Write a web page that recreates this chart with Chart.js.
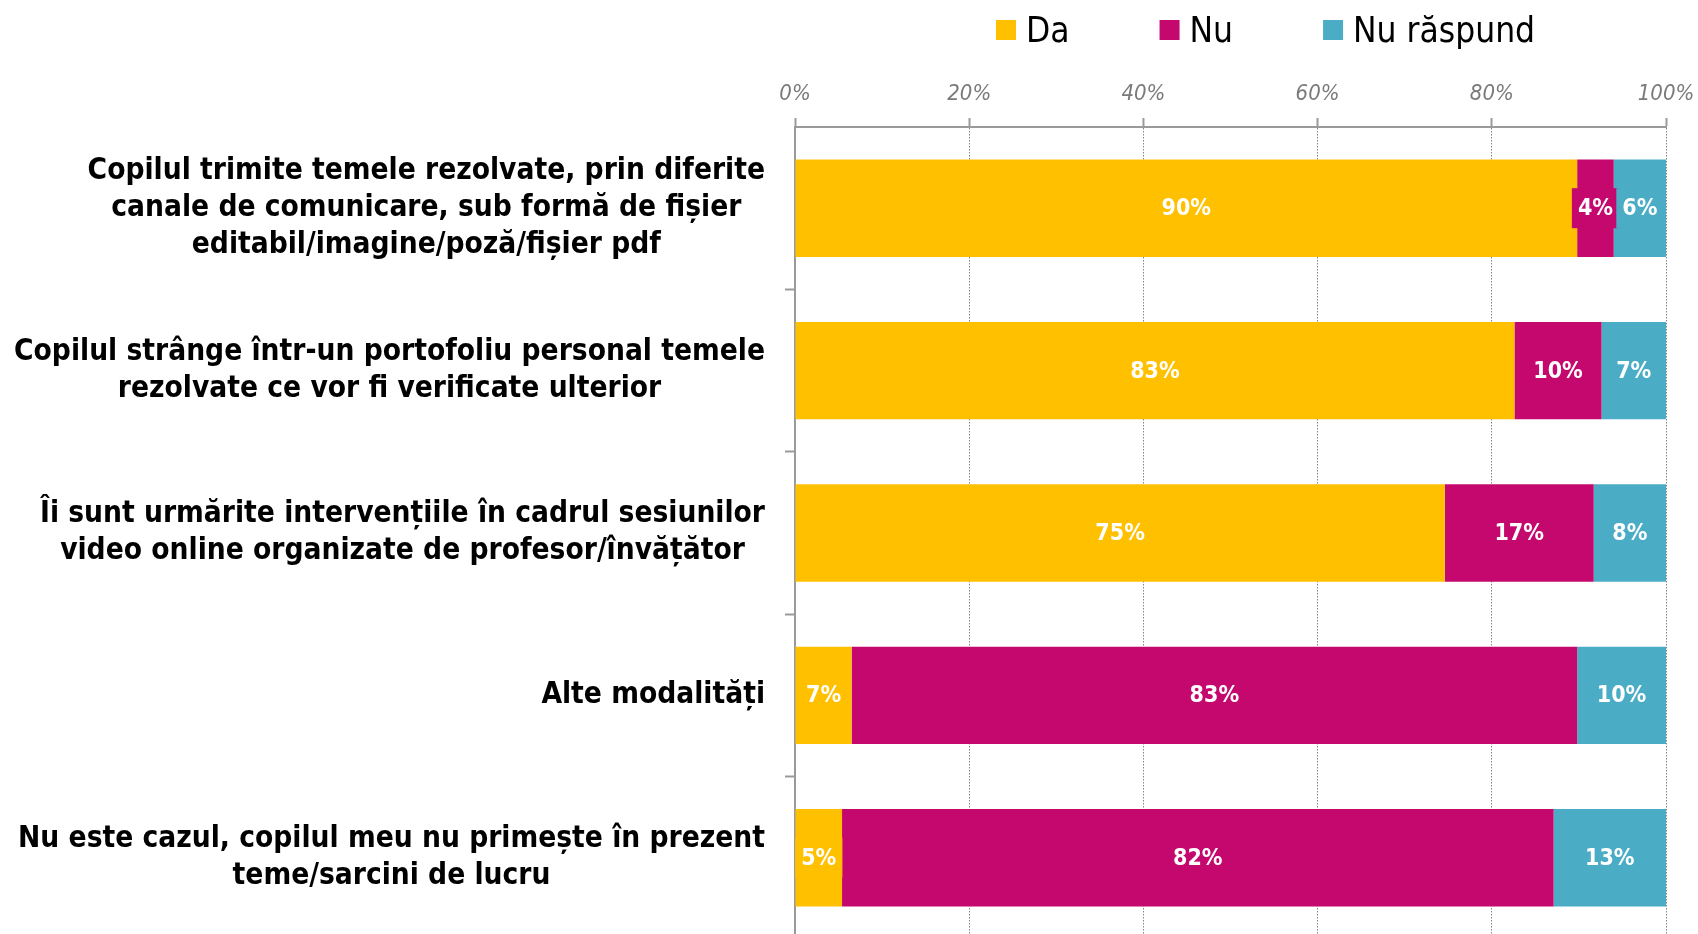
<!DOCTYPE html>
<html><head><meta charset="utf-8">
<script src="https://cdn.jsdelivr.net/npm/chart.js@4.4.1/dist/chart.umd.min.js"></script>
<style>html,body{margin:0;padding:0;background:#fff;overflow:hidden}
#wrap{position:relative;width:1698px;height:940px}</style>
</head><body><div id="wrap"><canvas id="c" width="1698" height="940"></canvas></div>
<script>
const categories = [
  ["Copilul trimite temele rezolvate, prin diferite", "canale de comunicare, sub formă de fișier", "editabil/imagine/poză/fișier pdf"],
  ["Copilul strânge într-un portofoliu personal temele", "rezolvate ce vor fi verificate ulterior"],
  ["Îi sunt urmărite intervențiile în cadrul sesiunilor", "video online organizate de profesor/învățător"],
  ["Alte modalități"],
  ["Nu este cazul, copilul meu nu primește în prezent", "teme/sarcini de lucru"]
];
const seriesNames = ["Da", "Nu", "Nu răspund"];
const da        = [89.8, 82.6, 74.6, 6.5, 5.4];
const nu        = [4.2, 10.0, 17.1, 83.3, 81.7];
const nuRaspund = [6.0, 7.4, 8.3, 10.2, 12.9];
const xTicks = [0, 20, 40, 60, 80, 100];
const seriesColors = ["#FFC000", "#C5086E", "#4BACC6"];

const FAM = "'DejaVu Sans Condensed','DejaVu Sans',sans-serif";

const catLabelPlugin = {
  id: 'catLabels',
  afterDraw(chart) {
    const ctx = chart.ctx, ys = chart.scales.y, area = chart.chartArea;
    ctx.save();
    ctx.font = `bold 29.6px ${FAM}`;
    ctx.fillStyle = '#000';
    ctx.textAlign = 'center';
    ctx.textBaseline = 'middle';
    const right = area.left - 30, lh = 37;
    categories.forEach((lines, i) => {
      const y = ys.getPixelForValue(i);
      const maxW = Math.max(...lines.map(l => ctx.measureText(l).width));
      const cx = right - maxW / 2;
      lines.forEach((l, j) => ctx.fillText(l, cx, y + (j - (lines.length - 1) / 2) * lh));
    });
    ctx.restore();
  }
};

const dataLabelPlugin = {
  id: 'dataLabels',
  afterDatasetsDraw(chart) {
    const ctx = chart.ctx;
    ctx.save();
    ctx.font = `bold 23px ${FAM}`;
    ctx.textAlign = 'center';
    ctx.textBaseline = 'middle';
    chart.data.datasets.forEach((ds, di) => {
      const meta = chart.getDatasetMeta(di);
      meta.data.forEach((bar, i) => {
        const txt = Math.round(ds.data[i]) + '%';
        const cx = (bar.x + bar.base) / 2, cy = bar.y;
        const w = ctx.measureText(txt).width + 12, h = 40;
        ctx.fillStyle = ds.backgroundColor;
        ctx.fillRect(cx - w / 2, cy - h / 2, w, h);
        ctx.fillStyle = '#fff';
        ctx.fillText(txt, cx, cy + 1);
      });
    });
    ctx.restore();
  }
};

const legendPlugin = {
  id: 'customLegend',
  afterDraw(chart) {
    const ctx = chart.ctx;
    ctx.save();
    ctx.font = `35px ${FAM}`;
    ctx.textBaseline = 'alphabetic';
    ctx.textAlign = 'left';
    let x = 996;
    chart.data.datasets.forEach(ds => {
      ctx.fillStyle = ds.backgroundColor;
      ctx.fillRect(x, 20, 20, 20);
      ctx.fillStyle = '#000';
      ctx.fillText(ds.label, x + 30, 42);
      x += 30 + ctx.measureText(ds.label).width + 90;
    });
    ctx.restore();
  }
};

new Chart(document.getElementById('c'), {
  type: 'bar',
  data: {
    labels: categories,
    datasets: [
      { label: seriesNames[0], data: da, backgroundColor: seriesColors[0] },
      { label: seriesNames[1], data: nu, backgroundColor: seriesColors[1] },
      { label: seriesNames[2], data: nuRaspund, backgroundColor: seriesColors[2] }
    ]
  },
  options: {
    indexAxis: 'y',
    responsive: false,
    devicePixelRatio: 1,
    animation: false,
    layout: { padding: { left: 0, right: 32, top: 0, bottom: 1 } },
    datasets: { bar: { barPercentage: 0.6, categoryPercentage: 1.0, borderWidth: 0 } },
    plugins: { legend: { display: false }, tooltip: { enabled: false } },
    scales: {
      x: {
        type: 'linear', position: 'top', stacked: true, min: 0, max: 100,
        afterBuildTicks: s => { s.ticks = xTicks.map(v => ({ value: v })); },
        afterFit: s => { s.height = 127; s.paddingLeft = 0; s.paddingRight = 0; },
        ticks: { callback: v => v + '%', color: '#7a7a7a', padding: 11,
                 font: { family: FAM, size: 22, style: 'italic' } },
        grid: { color: '#858585', lineWidth: 1, tickLength: 9, drawTicks: true,
                tickColor: '#9a9a9a', tickWidth: 2, tickBorderDash: [] },
        border: { display: true, color: '#9a9a9a', width: 2, dash: [1.5, 1.5] }
      },
      y: {
        type: 'category', position: 'left', stacked: true, offset: true,
        afterFit: s => { s.width = 795; },
        ticks: { display: false },
        grid: { offset: true, drawOnChartArea: false, drawTicks: true, tickLength: 10,
                tickColor: c => (c.index === 0 ? 'rgba(0,0,0,0)' : '#9a9a9a'), tickWidth: 2 },
        border: { display: true, color: '#9a9a9a', width: 2 }
      }
    }
  },
  plugins: [catLabelPlugin, dataLabelPlugin, legendPlugin]
});
</script>
</body></html>
